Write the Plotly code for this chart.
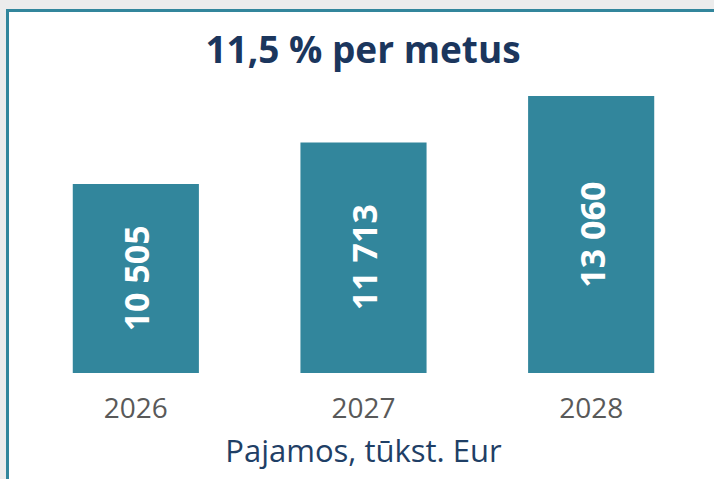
import plotly.graph_objects as go

years = ["2026", "2027", "2028"]
revenue = [10505, 11713, 13060]
labels = ["10 505", "11 713", "13 060"]
title_text = "11,5 % per metus"
axis_title = "Pajamos, tūkst. Eur"

W, H = 714, 479
L, R, T, B = 22, 9, 80, 106
pw = W - L - R
ph = H - T - B
Y0, Y1 = 5020, 13525

def px(x):
    return (x - L) / pw

def py(y):
    return (H - B - y) / ph

fig = go.Figure(go.Bar(
    x=years, y=revenue,
    marker=dict(color="#32869c", line=dict(width=0)),
    width=0.554,
    hoverinfo="skip",
))

annotations = [
    dict(x=i, y=(Y0 + v) / 2, xref="x", yref="y", text=lab, showarrow=False,
         textangle=-90, xanchor="center", yanchor="middle",
         font=dict(family="Open Sans", size=34, color="white", weight="bold"))
    for i, (v, lab) in enumerate(zip(revenue, labels))
]

shapes = [
    dict(type="rect", xref="paper", yref="paper", x0=px(0), x1=px(W), y0=py(0), y1=py(9),
         fillcolor="#ececec", line=dict(width=0), layer="above"),
    dict(type="rect", xref="paper", yref="paper", x0=px(0), x1=px(6), y0=py(0), y1=py(H),
         fillcolor="#ececec", line=dict(width=0), layer="above"),
    dict(type="rect", xref="paper", yref="paper", x0=px(6), x1=px(W), y0=py(9), y1=py(12),
         fillcolor="#32869c", line=dict(width=0), layer="above"),
    dict(type="rect", xref="paper", yref="paper", x0=px(6), x1=px(9), y0=py(9), y1=py(H),
         fillcolor="#32869c", line=dict(width=0), layer="above"),
]

fig.update_layout(
    width=W, height=H,
    margin=dict(l=L, r=R, t=T, b=B),
    paper_bgcolor="white", plot_bgcolor="white",
    showlegend=False,
    shapes=shapes,
    annotations=annotations,
    title=dict(text=title_text, x=363 / W, xanchor="center", y=1 - 50 / H, yanchor="middle",
               font=dict(family="Open Sans", size=37, color="#1b365d", weight="bold")),
    xaxis=dict(type="category", range=[-0.5, 2.5], showgrid=False, showline=False,
               zeroline=False, ticks="",
               tickfont=dict(family="Open Sans", size=28, color="#595959"),
               ticklabelstandoff=16,
               title=dict(text=axis_title, standoff=15,
                          font=dict(family="Open Sans", size=31, color="#1f3f66"))),
    yaxis=dict(visible=False, range=[Y0, Y1]),
)

fig.write_html("out.html", config={"displayModeBar": False},
               post_script="document.body.style.margin='0';")
